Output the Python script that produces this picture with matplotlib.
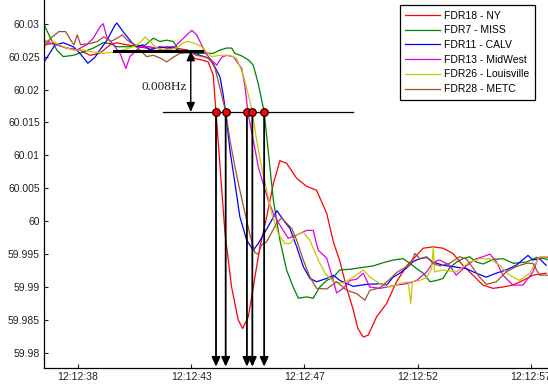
import numpy as np
import matplotlib.pyplot as plt

plt.rcParams['font.family'] = ['Liberation Sans', 'DejaVu Sans']

# Frequency traces (time in seconds after 12:12:00, frequency in Hz)
t_ny = [36.77, 37.15, 37.72, 38.28, 38.71, 39.13, 39.56, 39.84, 40.26, 40.69, 41.11, 41.54,
        41.96, 42.38, 42.81, 43.16, 43.44, 43.72, 43.93, 44.05, 44.22, 44.43, 44.71, 44.99,
        45.18, 45.42, 45.63, 45.91, 46.20, 46.48, 46.76, 47.04, 47.47, 47.89, 48.31, 48.74,
        49.02, 49.30, 49.59, 49.87, 50.06, 50.29, 50.50, 50.86, 51.28, 51.70, 52.13, 52.55,
        52.83, 53.24, 53.67, 54.09, 54.51, 54.94, 55.36, 55.79, 56.21, 56.63, 57.06, 57.48, 58.04]
f_ny = [60.0268, 60.0270, 60.0263, 60.0260, 60.0252, 60.0255, 60.0268, 60.0271, 60.0268, 60.0265,
        60.0263, 60.0263, 60.0265, 60.0263, 60.0260, 60.0247, 60.0245, 60.0242, 60.0222, 60.0166,
        60.0083, 59.9982, 59.9900, 59.9850, 59.9837, 59.9855, 59.9900, 59.9961, 60.0007, 60.0057,
        60.0092, 60.0088, 60.0065, 60.0053, 60.0047, 60.0012, 59.9969, 59.9939, 59.9898, 59.9865,
        59.9837, 59.9824, 59.9827, 59.9855, 59.9875, 59.9908, 59.9932, 59.9948, 59.9959, 59.9961,
        59.9959, 59.9951, 59.9933, 59.9918, 59.9903, 59.9898, 59.9900, 59.9903, 59.9910, 59.9918,
        59.9921]

t_miss = [36.77, 37.01, 37.30, 37.58, 38.00, 38.42, 38.85, 39.27, 39.56, 39.84, 40.40, 40.69,
          40.97, 41.39, 41.67, 41.96, 42.24, 42.52, 42.81, 43.16, 43.51, 43.93, 44.22, 44.50,
          44.71, 44.85, 45.14, 45.42, 45.63, 45.84, 46.09, 46.26, 46.48, 46.76, 47.04, 47.32,
          47.54, 47.89, 48.17, 48.45, 48.74, 49.02, 49.30, 49.73, 50.29, 50.71, 51.14, 51.56,
          51.98, 52.27, 52.55, 52.83, 53.12, 53.40, 53.67, 53.95, 54.25, 54.51, 54.80, 55.08,
          55.37, 55.80, 56.22, 56.65, 57.21, 57.64, 58.10]
f_miss = [60.0298, 60.0280, 60.0260, 60.0250, 60.0252, 60.0257, 60.0263, 60.0271, 60.0270, 60.0265,
          60.0265, 60.0268, 60.0265, 60.0278, 60.0273, 60.0275, 60.0273, 60.0257, 60.0257, 60.0255,
          60.0255, 60.0255, 60.0260, 60.0263, 60.0263, 60.0255, 60.0251, 60.0245, 60.0237, 60.0209,
          60.0166, 60.0108, 60.0032, 59.9971, 59.9926, 59.9900, 59.9883, 59.9885, 59.9883, 59.9900,
          59.9910, 59.9915, 59.9926, 59.9927, 59.9930, 59.9932, 59.9937, 59.9941, 59.9943, 59.9936,
          59.9928, 59.9921, 59.9908, 59.9910, 59.9913, 59.9929, 59.9938, 59.9943, 59.9946, 59.9938,
          59.9935, 59.9942, 59.9943, 59.9936, 59.9938, 59.9945, 59.9942]

t_calv = [36.77, 37.23, 37.58, 38.00, 38.28, 38.62, 38.92, 39.13, 39.43, 39.77, 39.85, 40.11,
          40.49, 40.70, 40.95, 41.25, 41.67, 41.97, 42.24, 42.52, 42.82, 43.09, 43.37, 43.71,
          43.92, 44.22, 44.34, 44.46, 44.64, 44.85, 45.06, 45.35, 45.63, 45.84, 46.05, 46.34,
          46.63, 46.90, 47.18, 47.47, 47.75, 48.03, 48.31, 48.74, 49.02, 49.30, 49.87, 50.43,
          51.00, 51.28, 51.56, 51.84, 52.13, 52.41, 52.69, 52.98, 53.24, 53.67, 54.09, 54.65,
          55.08, 55.50, 55.93, 56.35, 56.77, 57.27, 57.48, 57.76, 58.04]
f_calv = [60.0242, 60.0268, 60.0271, 60.0265, 60.0255, 60.0240, 60.0249, 60.0260, 60.0275, 60.0298,
          60.0301, 60.0288, 60.0271, 60.0265, 60.0268, 60.0260, 60.0265, 60.0263, 60.0265, 60.0257,
          60.0260, 60.0257, 60.0252, 60.0248, 60.0240, 60.0219, 60.0195, 60.0166, 60.0108, 60.0058,
          60.0007, 59.9971, 59.9956, 59.9966, 59.9979, 59.9997, 60.0016, 60.0002, 59.9989, 59.9961,
          59.9931, 59.9913, 59.9908, 59.9913, 59.9918, 59.9910, 59.9901, 59.9904, 59.9905, 59.9903,
          59.9915, 59.9921, 59.9929, 59.9939, 59.9943, 59.9945, 59.9938, 59.9933, 59.9931, 59.9928,
          59.9921, 59.9915, 59.9921, 59.9926, 59.9933, 59.9948, 59.9941, 59.9943, 59.9933]

t_mid = [36.77, 37.30, 37.72, 38.15, 38.57, 38.85, 39.13, 39.27, 39.42, 39.70, 39.98, 40.23,
         40.40, 40.83, 41.25, 41.81, 42.24, 42.59, 42.87, 43.03, 43.23, 43.37, 43.58, 43.79,
         44.08, 44.29, 44.50, 44.78, 45.14, 45.28, 45.40, 45.63, 45.84, 46.05, 46.26, 46.48,
         46.76, 47.11, 47.47, 47.89, 48.17, 48.38, 48.74, 49.02, 49.16, 49.44, 49.73, 50.01,
         50.29, 50.57, 51.00, 51.28, 51.70, 52.13, 52.55, 52.98, 53.26, 53.53, 53.95, 54.23,
         54.65, 55.08, 55.36, 55.66, 55.94, 56.21, 56.63, 57.06, 57.48, 57.69, 57.90, 58.10]
f_mid = [60.0273, 60.0268, 60.0263, 60.0260, 60.0268, 60.0278, 60.0295, 60.0300, 60.0280, 60.0268,
         60.0255, 60.0232, 60.0250, 60.0265, 60.0265, 60.0260, 60.0263, 60.0275, 60.0285, 60.0290,
         60.0283, 60.0273, 60.0257, 60.0247, 60.0237, 60.0249, 60.0252, 60.0250, 60.0232, 60.0204,
         60.0166, 60.0123, 60.0083, 60.0057, 60.0032, 60.0012, 59.9994, 59.9974, 59.9979, 59.9986,
         59.9986, 59.9956, 59.9944, 59.9910, 59.9891, 59.9898, 59.9910, 59.9912, 59.9921, 59.9900,
         59.9898, 59.9900, 59.9903, 59.9905, 59.9910, 59.9923, 59.9938, 59.9941, 59.9933, 59.9918,
         59.9932, 59.9943, 59.9946, 59.9950, 59.9938, 59.9918, 59.9903, 59.9903, 59.9923, 59.9943,
         59.9946, 59.9945]

t_lou = [36.77, 37.15, 37.58, 38.00, 38.42, 38.85, 39.27, 39.70, 40.12, 40.54, 40.83, 41.04,
         41.25, 41.54, 41.96, 42.38, 42.66, 42.87, 43.09, 43.44, 43.65, 43.87, 44.22, 44.64,
         44.93, 45.20, 45.42, 45.59, 45.77, 45.98, 46.20, 46.41, 46.69, 46.97, 47.18, 47.47,
         47.75, 48.03, 48.38, 48.67, 49.02, 49.44, 49.87, 50.29, 50.57, 51.00, 51.42, 51.84,
         52.20, 52.30, 52.38, 52.69, 52.98, 53.19, 53.26, 53.31, 53.67, 54.23, 54.80, 55.22,
         55.65, 56.07, 56.49, 56.92, 57.34, 57.76, 58.12]
f_lou = [60.0275, 60.0273, 60.0265, 60.0260, 60.0260, 60.0257, 60.0255, 60.0257, 60.0260, 60.0265,
         60.0271, 60.0280, 60.0273, 60.0263, 60.0260, 60.0263, 60.0271, 60.0273, 60.0271, 60.0265,
         60.0257, 60.0250, 60.0252, 60.0252, 60.0247, 60.0222, 60.0192, 60.0166, 60.0123, 60.0083,
         60.0047, 60.0012, 59.9981, 59.9966, 59.9966, 59.9979, 59.9983, 59.9971, 59.9941, 59.9921,
         59.9908, 59.9906, 59.9915, 59.9926, 59.9915, 59.9905, 59.9900, 59.9905, 59.9908, 59.9875,
         59.9908, 59.9910, 59.9915, 59.9928, 59.9960, 59.9923, 59.9926, 59.9923, 59.9938, 59.9943,
         59.9943, 59.9933, 59.9918, 59.9910, 59.9921, 59.9946, 59.9946]

t_metc = [36.77, 37.04, 37.39, 37.68, 37.89, 38.03, 38.17, 38.31, 38.74, 39.02, 39.30, 39.59,
          39.86, 40.08, 40.29, 40.57, 40.83, 41.11, 41.39, 41.67, 41.96, 42.24, 42.52, 42.95,
          43.23, 43.51, 43.79, 44.01, 44.22, 44.46, 44.64, 44.85, 45.06, 45.28, 45.49, 45.70,
          45.84, 45.98, 46.20, 46.41, 46.62, 46.83, 47.04, 47.26, 47.47, 47.75, 48.03, 48.31,
          48.74, 49.16, 49.59, 50.01, 50.36, 50.57, 51.00, 51.42, 51.70, 51.98, 52.27, 52.48,
          52.69, 52.98, 53.24, 53.54, 53.95, 54.37, 54.65, 54.94, 55.22, 55.51, 55.93, 56.35,
          56.77, 57.20, 57.48, 57.76, 58.12]
f_metc = [60.0265, 60.0278, 60.0288, 60.0288, 60.0275, 60.0268, 60.0283, 60.0268, 60.0270, 60.0273,
          60.0280, 60.0273, 60.0278, 60.0283, 60.0275, 60.0268, 60.0260, 60.0250, 60.0252, 60.0248,
          60.0242, 60.0249, 60.0255, 60.0256, 60.0252, 60.0250, 60.0247, 60.0232, 60.0202, 60.0166,
          60.0123, 60.0083, 60.0047, 60.0012, 59.9979, 59.9952, 59.9950, 59.9964, 59.9969, 59.9983,
          59.9997, 60.0005, 59.9997, 59.9989, 59.9971, 59.9941, 59.9915, 59.9898, 59.9897, 59.9908,
          59.9895, 59.9890, 59.9880, 59.9895, 59.9899, 59.9912, 59.9922, 59.9928, 59.9933, 59.9951,
          59.9943, 59.9946, 59.9936, 59.9932, 59.9936, 59.9946, 59.9943, 59.9929, 59.9915, 59.9904,
          59.9908, 59.9923, 59.9931, 59.9936, 59.9936, 59.9918, 59.9918]

series = [
    (t_ny, f_ny, '#ff0000', 'FDR18 - NY'),
    (t_miss, f_miss, '#008000', 'FDR7 - MISS'),
    (t_calv, f_calv, '#0000ff', 'FDR11 - CALV'),
    (t_mid, f_mid, '#e000e0', 'FDR13 - MidWest'),
    (t_lou, f_lou, '#c8c800', 'FDR26 - Louisville'),
    (t_metc, f_metc, '#a0522d', 'FDR28 - METC'),
]

# pre-event level, threshold level and the times each unit crosses it
f_pre = 60.0258
f_thr = 60.0166
t_cross = [44.05, 44.46, 45.36, 45.59, 46.09]
delta_label = '0.008Hz'

tick_pos = [38.2, 43.0, 47.8, 52.6, 57.4]
tick_lab = ['12:12:38', '12:12:43', '12:12:47', '12:12:52', '12:12:57']
ytick_pos = [59.98, 59.985, 59.99, 59.995, 60.0, 60.005, 60.01, 60.015, 60.02, 60.025, 60.03]
ytick_lab = ['59.98', '59.985', '59.99', '59.995', '60', '60.005', '60.01', '60.015', '60.02',
             '60.025', '60.03']

fig = plt.figure(figsize=(5.48, 3.87), dpi=100)
ax = fig.add_axes([44 / 548, 19 / 387, 504 / 548, 368 / 387])

for t, f, c, lab in series:
    ax.plot(t, f, color=c, lw=0.9, label=lab)

# pre-event reference and threshold lines
ax.plot([39.73, 43.45], [f_pre, f_pre], color='k', lw=2.2)
ax.plot([41.80, 49.84], [f_thr, f_thr], color='k', lw=0.9)
ax.annotate('', xy=(42.98, f_pre), xytext=(42.98, f_thr),
            arrowprops=dict(arrowstyle='<|-|>,head_length=0.55,head_width=0.25',
                            color='k', lw=1.0, shrinkA=0, shrinkB=0))
ax.text(42.82, 60.0204, delta_label, ha='right', va='center', fontsize=9.5,
        family='Liberation Serif', color='#222222')

# drop lines from crossing points to the time axis
for tc in t_cross:
    ax.annotate('', xy=(tc, 59.9779), xytext=(tc, f_thr),
                arrowprops=dict(arrowstyle='-|>,head_length=0.55,head_width=0.25',
                                color='k', lw=1.3, shrinkA=0, shrinkB=0))
ax.plot(t_cross, [f_thr] * len(t_cross), 'o', ms=5.5, mfc='#ff0000', mec='k', mew=0.8, zorder=5)

ax.set_xlim(36.76, 58.12)
ax.set_ylim(59.9777, 60.0336)
ax.set_xticks(tick_pos)
ax.set_xticklabels(tick_lab)
ax.set_yticks(ytick_pos)
ax.set_yticklabels(ytick_lab)
ax.tick_params(direction='in', length=3, width=0.8, labelsize=7.5, pad=3, colors='#222222')
ax.spines['top'].set_visible(False)
ax.spines['right'].set_visible(False)
for s in ['left', 'bottom']:
    ax.spines[s].set_linewidth(0.9)

leg = ax.legend(loc='upper right', bbox_to_anchor=(535 / 548, 382 / 387),
                bbox_transform=fig.transFigure, fontsize=7.5, handlelength=3.3,
                handletextpad=0.4, labelspacing=0.45, borderpad=0.55, borderaxespad=0,
                fancybox=False, framealpha=1)
leg.get_frame().set_edgecolor('k')
leg.get_frame().set_linewidth(0.9)

fig.savefig('out.png', dpi=100)
